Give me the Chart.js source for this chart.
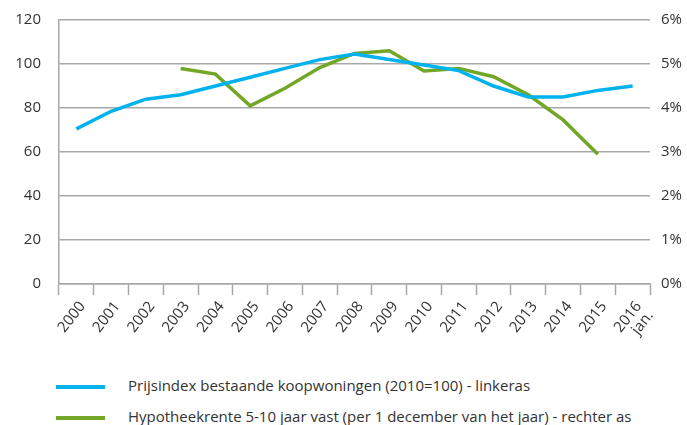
<!DOCTYPE html>
<html>
<head>
<meta charset="utf-8">
<script src="https://cdn.jsdelivr.net/npm/chart.js@4"></script>
<style>
  body { margin: 0; background: #fff; font-family: "Open Sans", sans-serif; }
  #wrap { position: relative; width: 687px; height: 350px; }
  .legend { position: absolute; left: 0; top: 0; width: 687px; font-size: 15px; color: #333; }
  .legend div { position: absolute; left: 0; height: 20px; width: 687px; }
  .legend .sw { position: absolute; left: 56px; top: 9px; width: 49px; height: 4px; }
  .legend .tx { position: absolute; left: 128px; top: -1px; white-space: nowrap; }
</style>
</head>
<body>
<div id="wrap"><canvas id="chart"></canvas></div>
<div class="legend">
  <div style="top:376px"><span class="sw" style="background:#00b2ee"></span><span class="tx">Prijsindex bestaande koopwoningen (2010=100) - linkeras</span></div>
  <div style="top:407px"><span class="sw" style="background:#72a627"></span><span class="tx">Hypotheekrente 5-10 jaar vast (per 1 december van het jaar) - rechter as</span></div>
</div>
<script>
const years = ['2000','2001','2002','2003','2004','2005','2006','2007','2008','2009','2010','2011','2012','2013','2014','2015',['2016','jan.']];
const priceIndex = [70.5, 78.5, 84, 86, 90, 94, 98, 102, 104.5, 102, 99.5, 97, 90, 85, 85, 88, 90];
const mortgageRate = [null, null, null, 4.9, 4.77, 4.05, 4.45, 4.92, 5.24, 5.3, 4.84, 4.9, 4.71, 4.3, 3.73, 2.95, null];

const tickFont = { family: '"Open Sans", sans-serif', size: 15 };
const textColor = '#333';
const gridColor = '#a8a8a8';

// fixed axis sizes so the plot area sits where the original has it
const fixY = w => s => { s.width = w; s.paddingTop = 0; s.paddingBottom = 0; };

const ctx = document.getElementById('chart').getContext('2d');
const chart = new Chart(ctx, {
  type: 'line',
  data: {
    labels: years,
    datasets: [{
      label: 'Prijsindex bestaande koopwoningen (2010=100) - linkeras',
      data: priceIndex,
      borderColor: '#00b2ee',
      borderWidth: 3.5,
      pointRadius: 0,
      tension: 0,
      yAxisID: 'y'
    },
    {
      label: 'Hypotheekrente 5-10 jaar vast (per 1 december van het jaar) - rechter as',
      data: mortgageRate,
      borderColor: '#72a627',
      borderWidth: 3.5,
      pointRadius: 0,
      tension: 0,
      yAxisID: 'rateAxis'
    }]
  },
  options: {
    animation: false,
    responsive: true,
    maintainAspectRatio: false,
    layout: { padding: { top: 20, bottom: 0 } },
    scales: {
      x: {
        offset: true,
        grid: { drawOnChartArea: false, offset: true, color: gridColor, tickLength: 11, tickWidth: 1.5 },
        border: { color: gridColor, width: 1.5 },
        ticks: { font: { family: '"Open Sans", sans-serif', size: 15, lineHeight: 1.0 }, color: textColor, maxRotation: 52, minRotation: 52, autoSkip: false, padding: 4, labelOffset: 6 },
        afterFit: s => { s.height = 350 - 284; s.paddingLeft = 0; s.paddingRight = 0; }
      },
      y: {
        min: 0, max: 120,
        ticks: { stepSize: 20, font: tickFont, color: textColor, padding: 18 },
        grid: { color: gridColor, lineWidth: 1.5, drawTicks: false },
        border: { color: gridColor, width: 1.5 },
        afterFit: fixY(59)
      },
      rateAxis: {
        position: 'right',
        min: 0, max: 6,
        ticks: { stepSize: 1, font: tickFont, color: textColor, padding: 11, callback: v => v + '%' },
        grid: { drawOnChartArea: false, drawTicks: false },
        border: { display: false },
        afterFit: fixY(37)
      }
    },
    plugins: {
      legend: { display: false },
      tooltip: { enabled: false }
    }
  }
});
</script>
</body>
</html>
